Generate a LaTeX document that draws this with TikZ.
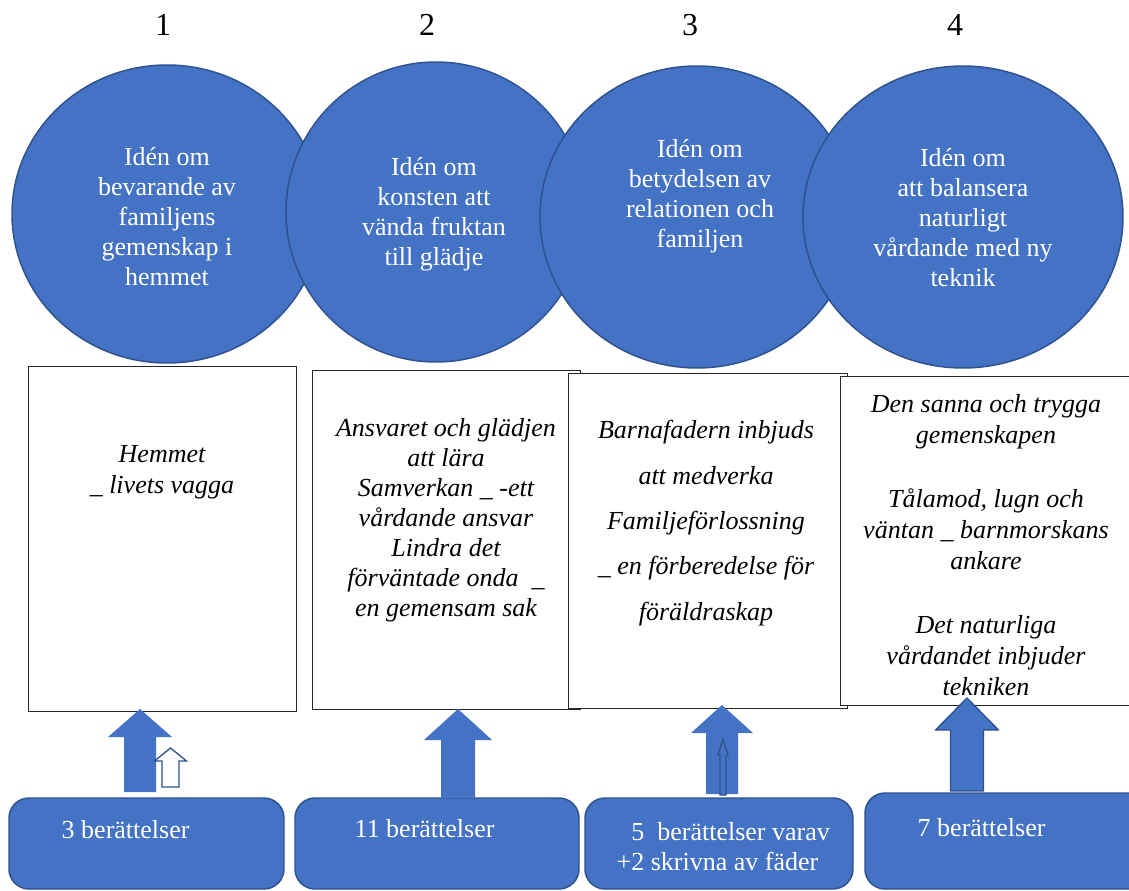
\documentclass[tikz,border=0pt]{standalone}
\usepackage{fontspec}
\setmainfont{Liberation Serif}
\usepackage{tikz}
\usetikzlibrary{fit,shapes.geometric}
\definecolor{ideafill}{HTML}{4472C4}
\definecolor{ideaedge}{HTML}{2F528F}
\tikzset{
  idea/.style={ellipse, fill=ideafill, draw=ideaedge, line width=1.1pt, inner sep=0pt},
  ideaText/.style={text=white, align=center, font=\fontsize{19.5}{22.5}\selectfont},
  colnum/.style={font=\fontsize{24}{28}\selectfont},
  panel/.style={draw=black!85, line width=0.7pt, fill=white, inner sep=0pt},
  panelText/.style={align=center, font=\fontsize{19.5}{22.5}\selectfont\itshape},
  story/.style={rounded corners=15pt, fill=ideafill, draw=ideaedge, line width=1.1pt, inner sep=0pt},
  storyText/.style={text=white, align=left, anchor=west, font=\fontsize{19.5}{22.5}\selectfont},
  blockUp/.style={fill=ideafill},
  hollowUp/.style={fill=white, draw=ideaedge, line width=1pt, line join=miter},
  thinUp/.style={fill=ideafill, draw=ideaedge, line width=1pt},
  edgedUp/.style={fill=ideafill, draw=ideaedge, line width=1pt, line join=round}
}
% tip x, tip y, neck y, head half width, shaft half width, bottom y
\newcommand{\uparrowblock}[7][blockUp]{%
  \path[#1] (#2,#3) -- (#2+#5,#4) -- (#2+#6,#4) -- (#2+#6,#7)
    -- (#2-#6,#7) -- (#2-#6,#4) -- (#2-#5,#4) -- cycle;
}

\begin{document}
\begin{tikzpicture}[x=0.75pt,y=-0.75pt]
\useasboundingbox (0,0) rectangle (1129,891);
\clip (0,0) rectangle (1129,891);
\fill[white] (0,0) rectangle (1129,891);

% column numbers
\node[colnum] (n1) at (163,25) {1};
\node[colnum] (n2) at (427,25) {2};
\node[colnum] (n3) at (690,25) {3};
\node[colnum] (n4) at (955,25) {4};

% idea circles, each one over the one before
\node[idea, minimum width=232.5pt, minimum height=223.5pt] (c1) at (167,214) {};
\node[ideaText] (c1t) at (167,217) {Idén om\\bevarande av\\familjens\\gemenskap i\\hemmet};
\node[idea, minimum width=225pt, minimum height=225pt] (c2) at (436,212) {};
\node[ideaText] (c2t) at (434,214) {Idén om\\konsten att\\vända fruktan\\till glädje};
\node[idea, minimum width=235.5pt, minimum height=226.5pt] (c3) at (697,217) {};
\node[ideaText] (c3t) at (700,196) {Idén om\\betydelsen av\\relationen och\\familjen};
\node[idea, minimum width=240pt, minimum height=226.5pt] (c4) at (963,217) {};
\node[ideaText] (c4t) at (963,218) {Idén om\\att balansera\\naturligt\\vårdande med ny\\teknik};

% theme panels
\node[panel, fit={(28,366) (296,711)}] (p1) {};
\node[panel, fit={(312,370) (580,709)}] (p2) {};
\node[panel, fit={(568,373) (847,708)}] (p3) {};
\node[panel, fit={(840,376) (1140,705)}] (p4) {};

\node[panelText, font=\fontsize{19.5}{23.25}\selectfont\itshape] (p1t) at (162,472)
  {Hemmet\\\_ livets vagga};
\node[panelText] (p2t) at (446,520)
  {Ansvaret och glädjen\\att lära\\Samverkan \_ -ett\\vårdande ansvar\\Lindra det\\förväntade onda\ \ \_\\en gemensam sak};
\node[panelText, font=\fontsize{19.5}{34}\selectfont\itshape] (p3t) at (706,523)
  {Barnafadern inbjuds\\att medverka\\Familjeförlossning\\\_ en förberedelse för\\föräldraskap};
\node[panelText, font=\fontsize{19.5}{23.25}\selectfont\itshape] (p4t) at (986,545)
  {Den sanna och trygga\\gemenskapen\\[25pt]Tålamod, lugn och\\väntan \_ barnmorskans\\ankare\\[25pt]Det naturliga\\vårdandet inbjuder\\tekniken};

% story counts
\node[story, fit={(9,798) (284,889)}] (s1) {};
\node[story, fit={(295,798) (579,889)}] (s2) {};
\node[story, fit={(585,798) (853,889)}] (s3) {};
\node[story, fit={(865,793) (1150,889)}] (s4) {};

\node[storyText] (s1t) at (57,830) {3 berättelser};
\node[storyText] (s2t) at (350,829) {11 berättelser};
\node[storyText] (s3t) at (612,847) {\hspace{11pt}5\ \ berättelser varav\\+2 skrivna av fäder};
\node[storyText] (s4t) at (913,828) {7 berättelser};

% block arrows
\uparrowblock{140}{709}{737}{32}{16}{792}
\uparrowblock[hollowUp]{170.5}{748}{761}{16}{8.5}{787}
\uparrowblock{458}{709}{740}{34}{17}{798}
\uparrowblock{722}{705}{733}{31}{16}{794}
\uparrowblock[thinUp]{723}{739}{755}{5}{3}{795}
\uparrowblock[edgedUp]{967}{698}{730}{31.5}{16.5}{791}
\end{tikzpicture}
\end{document}
